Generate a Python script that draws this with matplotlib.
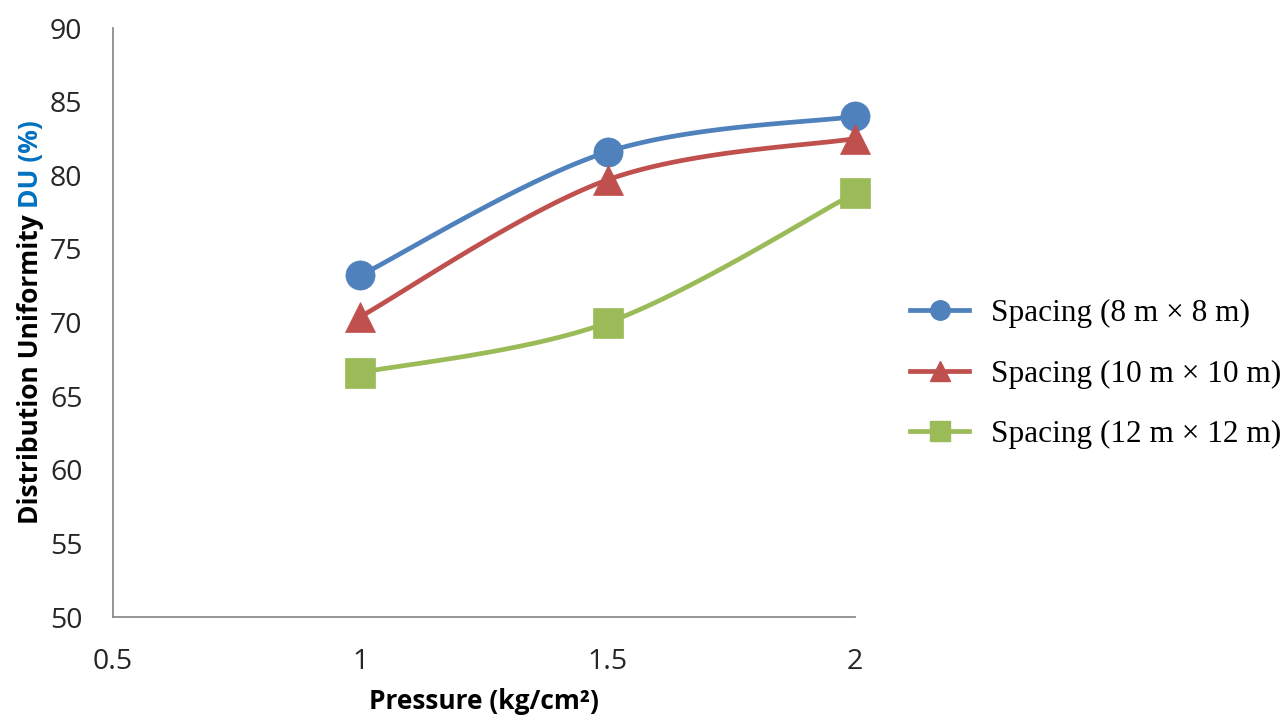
import matplotlib
matplotlib.use("Agg")
import matplotlib.pyplot as plt
import numpy as np

plt.rcParams["font.family"] = ["Open Sans", "DejaVu Sans"]

# pressure levels and distribution uniformity per sprinkler spacing
pressure = [1.0, 1.5, 2.0]
du_8m = [73.2, 81.6, 84.0]
du_10m = [70.4, 79.7, 82.5]
du_12m = [66.6, 70.0, 78.8]
labels = ["Spacing (8 m \u00d7 8 m)", "Spacing (10 m \u00d7 10 m)", "Spacing (12 m \u00d7 12 m)"]
colors = ["#4F81BD", "#C0504D", "#9BBB59"]
markers = ["o", "^", "s"]

xlim = (0.5, 2.0)
ylim = (50, 90)


def smooth(x, y, sx, sy, n=40):
    # Catmull-Rom style bezier through the points, computed in screen-like units
    px = np.asarray(x) * sx
    py = np.asarray(y) * sy
    pts = np.column_stack([px, py])
    ext = np.vstack([pts[0], pts, pts[-1]])
    out = []
    for i in range(len(pts) - 1):
        p0, p1, p2, p3 = ext[i], ext[i + 1], ext[i + 2], ext[i + 3]
        c1 = p1 + (p2 - p0) / 6.0
        c2 = p2 - (p3 - p1) / 6.0
        t = np.linspace(0, 1, n)[:, None]
        seg = ((1 - t) ** 3) * p1 + 3 * ((1 - t) ** 2) * t * c1 + 3 * (1 - t) * t ** 2 * c2 + t ** 3 * p2
        out.append(seg if i == 0 else seg[1:])
    out = np.vstack(out)
    return out[:, 0] / sx, out[:, 1] / sy


fig = plt.figure(figsize=(12.84, 7.21), dpi=100)
ax = fig.add_axes([0.088, 0.1442, 0.578, 0.8168])
ax.set_xlim(*xlim)
ax.set_ylim(*ylim)

# pixels per data unit, so the smoothing behaves like on screen
sx = 742 / (xlim[1] - xlim[0])
sy = 589 / (ylim[1] - ylim[0])

for vals, lab, col, mk in zip([du_8m, du_10m, du_12m], labels, colors, markers):
    cx, cy = smooth(pressure, vals, sx, sy)
    ax.plot(cx, cy, color=col, lw=3.4, solid_capstyle="round", zorder=2, clip_on=False)
    ax.plot(pressure, vals, linestyle="none", marker=mk, ms=21, color=col,
            markeredgewidth=0.5, zorder=3, clip_on=False)
    ax.plot([], [], color=col, lw=3.4, marker=mk, ms=14, label=lab)

ax.set_xticks([0.5, 1.0, 1.5, 2.0])
ax.set_xticklabels(["0.5", "1", "1.5", "2"])
ax.set_yticks(np.arange(50, 91, 5))
ax.tick_params(length=0, labelsize=20.5, labelcolor="#262626")
ax.tick_params(axis="y", pad=22)
ax.tick_params(axis="x", pad=22)

for s in ["top", "right"]:
    ax.spines[s].set_visible(False)
for s in ["left", "bottom"]:
    ax.spines[s].set_color("#8c8c8c")
    ax.spines[s].set_linewidth(1.3)

ax.set_xlabel("Pressure (kg/cm\u00b2)", fontweight="bold", fontsize=19, labelpad=9)

# y label: black part, then the blue "DU (%)" stacked above it
lab_x = 0.024
t1 = fig.text(lab_x, 0.5, "Distribution Uniformity ", rotation=90, ha="center", va="center",
              fontweight="bold", fontsize=19, color="black")
t2 = ax.annotate("DU (%)", xy=(0.5, 1.0), xycoords=t1, rotation=90, ha="center", va="bottom",
                 fontweight="bold", fontsize=19, color="#0070C0")
# move the pair so the whole label is centred on the axes
fig.canvas.draw()
r = fig.canvas.get_renderer()
b1 = t1.get_window_extent(r)
b2 = t2.get_window_extent(r)
mid = (b1.y0 + b2.y1) / 2
target = (1 - 322 / 721) * fig.bbox.height
t1.set_position((lab_x, 0.5 + (target - mid) / fig.bbox.height))

ax.legend(loc="center left", bbox_to_anchor=(910 / 1284, 1 - 374 / 721),
          bbox_transform=fig.transFigure, frameon=False, borderpad=0, borderaxespad=0,
          prop={"family": "Liberation Serif", "size": 22.5}, handlelength=1.9,
          handletextpad=0.7, labelspacing=1.0)

fig.savefig("out.png", dpi=100)
